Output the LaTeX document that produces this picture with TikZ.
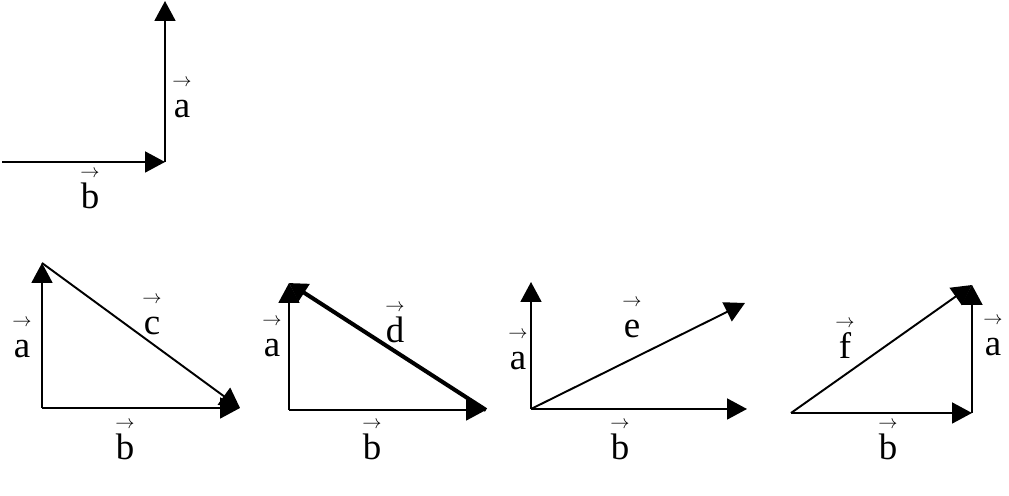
\documentclass[tikz,border=0pt]{standalone}
\usepackage{fontspec}
\setmainfont{Liberation Serif}
\usepackage{tikz}
\usetikzlibrary{arrows.meta}

\newcommand{\vlab}[1]{\hbox{\ooalign{#1\cr\hidewidth\raisebox{18pt}{\fontsize{10.5}{10.5}\selectfont$\rightarrow$}\hidewidth\cr}}}

\begin{document}
\begin{tikzpicture}[
    x=0.02cm, y=-0.02cm,
    vec/.style={line width=1.1pt, -{Triangle[length=0.4cm, width=0.42cm]}},
    thickvec/.style={vec, line width=2.3pt, -{Triangle[length=0.36cm, width=0.4cm]}},
    lab/.style={inner sep=0pt, anchor=base, font=\fontsize{21}{23}\selectfont}
]
\useasboundingbox (0,0) rectangle (1009,496);

% top: a and b
\coordinate (o0) at (165,162);
\coordinate (a0) at (165,1);
\coordinate (s0) at (2,162);
\draw [vec] (o0) -- (a0);
\draw [vec] (s0) -- (o0);
\node (la0) [lab] at (182,118) {\vlab{a}};
\node (lb0) [lab] at (90,209) {\vlab{b}};

% c
\coordinate (o1) at (42,408);
\coordinate (a1) at (42,263);
\coordinate (b1) at (240,408);
\draw [vec] (o1) -- (a1);
\draw [vec] (o1) -- (b1);
\draw [vec] (a1) -- (b1);
\node (la1) [lab] at (22,358) {\vlab{a}};
\node (lc1) [lab] at (152,335) {\vlab{c}};
\node (lb1) [lab] at (125,460) {\vlab{b}};

% d
\coordinate (o2) at (289,410);
\coordinate (a2) at (289,283);
\coordinate (b2) at (486,410);
\draw [vec] (o2) -- (a2);
\draw [vec] (o2) -- (b2);
\draw [thickvec] (b2) -- (a2);
\node (la2) [lab] at (272,357) {\vlab{a}};
\node (ld2) [lab] at (395,343) {\vlab{d}};
\node (lb2) [lab] at (372,460) {\vlab{b}};

% e
\coordinate (o3) at (531,409);
\coordinate (a3) at (531,282);
\coordinate (b3) at (747,409);
\coordinate (e3) at (745,303);
\draw [vec] (o3) -- (a3);
\draw [vec] (o3) -- (b3);
\draw [vec] (o3) -- (e3);
\node (la3) [lab] at (518,370) {\vlab{a}};
\node (le3) [lab] at (632,338) {\vlab{e}};
\node (lb3) [lab] at (620,460) {\vlab{b}};

% f
\coordinate (o4) at (791,413);
\coordinate (b4) at (972,413);
\coordinate (a4) at (972,285);
\draw [vec] (o4) -- (b4);
\draw [vec] (b4) -- (a4);
\draw [vec] (o4) -- (a4);
\node (lf4) [lab] at (845,359) {\vlab{f}};
\node (la4) [lab] at (993,356) {\vlab{a}};
\node (lb4) [lab] at (888,460) {\vlab{b}};

\end{tikzpicture}
\end{document}
